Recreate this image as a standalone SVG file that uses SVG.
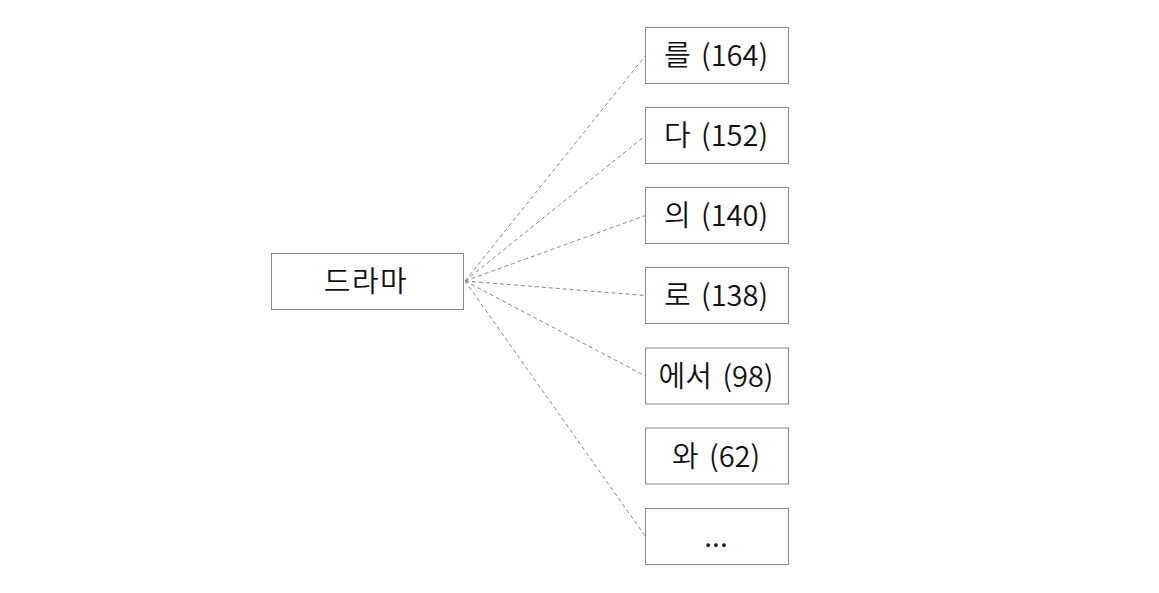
<svg xmlns="http://www.w3.org/2000/svg" width="1159" height="593" viewBox="0 0 1159 593">
<style>
.box{fill:#ffffff;stroke:#888888;stroke-width:1}
.lbl{font-family:"Malgun Gothic","Noto Sans CJK KR","Noto Sans",sans-serif;font-size:29px;font-weight:350;fill:#111111;text-anchor:middle;word-spacing:4px}
.edge{fill:none;stroke:#8a8a8a;stroke-width:1;stroke-dasharray:4 3}
</style>
<rect x="0" y="0" width="1159" height="593" fill="#ffffff"/>
<g id="connectors">
<line class="edge" x1="465" y1="281" x2="645.5" y2="55.5"/>
<line class="edge" x1="465" y1="281" x2="645.5" y2="135.5"/>
<line class="edge" x1="465" y1="281" x2="645.5" y2="215.5"/>
<line class="edge" x1="465" y1="281" x2="645.5" y2="295.5"/>
<line class="edge" x1="465" y1="281" x2="645.5" y2="376"/>
<line class="edge" x1="465" y1="281" x2="645.5" y2="536.5"/>
</g>
<g id="node-drama">
<rect class="box" x="271.5" y="253.5" width="192" height="56"/>
<text class="lbl" x="366" y="292" letter-spacing="1.5">드라마</text>
</g>
<g id="node-reul">
<rect class="box" x="645.5" y="27.5" width="143" height="56"/>
<text class="lbl" x="716" y="66">를 (164)</text>
</g>
<g id="node-da">
<rect class="box" x="645.5" y="107.5" width="143" height="56"/>
<text class="lbl" x="716" y="146">다 (152)</text>
</g>
<g id="node-ui">
<rect class="box" x="645.5" y="187.5" width="143" height="56"/>
<text class="lbl" x="716" y="226">의 (140)</text>
</g>
<g id="node-ro">
<rect class="box" x="645.5" y="267.5" width="143" height="56"/>
<text class="lbl" x="716" y="306">로 (138)</text>
</g>
<g id="node-eseo">
<rect class="box" x="645.5" y="348" width="143" height="56"/>
<text class="lbl" x="716" y="387">에서 (98)</text>
</g>
<g id="node-wa">
<rect class="box" x="645.5" y="428" width="143" height="56"/>
<text class="lbl" x="716" y="467">와 (62)</text>
</g>
<g id="node-more">
<rect class="box" x="645.5" y="508.5" width="143" height="56"/>
<text class="lbl" x="716" y="547">...</text>
</g>
</svg>
